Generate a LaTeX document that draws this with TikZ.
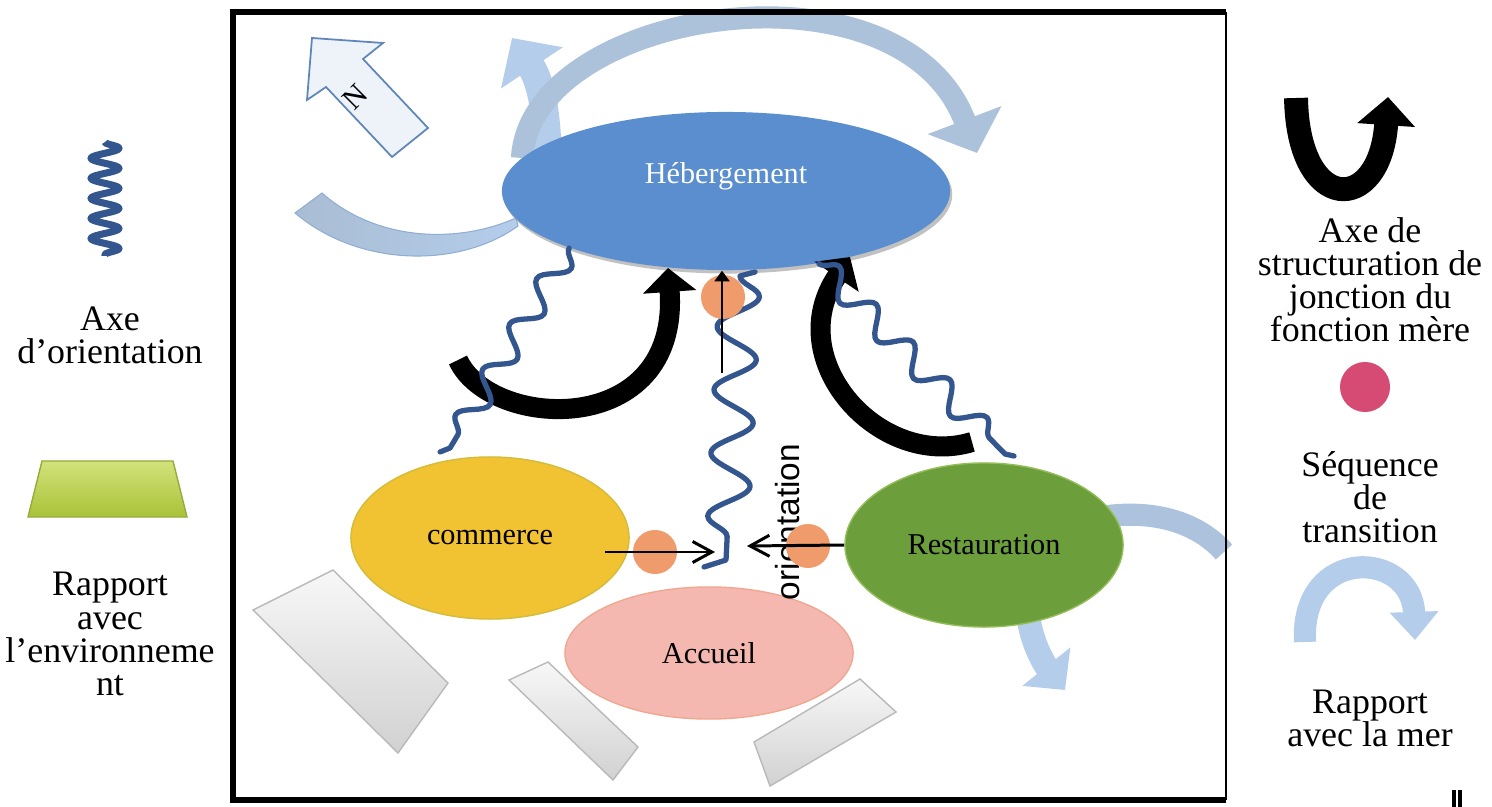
\documentclass[tikz,border=0pt]{standalone}
\usepackage{fontspec}
\setmainfont{Liberation Serif}
\newfontfamily\arialf{Liberation Sans}
\usetikzlibrary{shapes.geometric,arrows.meta,decorations.pathmorphing,shadows}
\definecolor{hebblue}{HTML}{5A8ECF}
\definecolor{comyellow}{HTML}{F1C232}
\definecolor{comedge}{HTML}{D2BC3A}
\definecolor{resgreen}{HTML}{6C9E3B}
\definecolor{resedge}{HTML}{94BE5A}
\definecolor{accpink}{HTML}{F5B8B1}
\definecolor{accedge}{HTML}{EFA88F}
\definecolor{dotorange}{HTML}{EF9B6C}
\definecolor{wavyblue}{HTML}{34568F}
\definecolor{seafill}{HTML}{B4CDEB}
\definecolor{seagray}{HTML}{A9BDD3}
\definecolor{seaedge}{HTML}{8FAED2}
\definecolor{nfill}{HTML}{EEF3FA}
\definecolor{nedge}{HTML}{5E86B8}
\definecolor{pinkdot}{HTML}{D64B73}
\definecolor{trtop}{HTML}{D2E27A}
\definecolor{trbot}{HTML}{A9C238}
\definecolor{tredge}{HTML}{93AC3C}
\begin{document}
\begin{tikzpicture}[x=0.01cm,y=-0.01cm,
  ell/.style={ellipse, inner sep=0pt, font=\fontsize{8.6}{10}\selectfont},
  seqdot/.style={circle, fill=dotorange, minimum size=0.44cm, inner sep=0pt},
  wavy/.style={draw=wavyblue, line width=1.5pt, line join=round, line cap=round},
  blackarrow/.style={draw=black, line width=5.7pt, -{Triangle[width=14.8pt,length=6.8pt]}},
  legendtext/.style={font=\fontsize{10.2}{9.4}\selectfont, align=center},
  slab/.style={top color=gray!6, bottom color=gray!36, draw=gray!55, line width=0.4pt},
  chev/.style={draw=black, line width=0.85pt, -{Straight Barb[length=5.5pt,width=6pt]}},
  thinarrow/.style={draw=black, line width=0.45pt, -{Triangle[length=3pt,width=4.3pt]}}
]
\useasboundingbox (0,0) rectangle (1492,807);

% --- sea arrows behind Hebergement ---
\draw[seafill, line width=8pt, -{Triangle[width=20.5pt,length=10.2pt]}] (548,175) .. controls (548,110) and (540,80) .. (512,38);
\shade[left color=seagray, right color=seafill, draw=seaedge, line width=0.3pt]
  (295,213) .. controls (360,268) and (460,268) .. (518,226)
  -- (516,218) .. controls (455,245) and (375,240) .. (322,193) -- cycle;
\draw[seagray!70!seafill, line width=6.3pt, -{Triangle[width=21.9pt,length=10pt]}] (522,158) .. controls (530,10) and (900,-50) .. (977,153);

% --- North arrow ---
\draw[fill=nfill, draw=nedge, line width=0.5pt] (312,38) -- (383,43) -- (363,59) -- (428,128) -- (392,157) -- (326,87) -- (307,100) -- cycle;
\node[font=\fontsize{8.5}{10}\selectfont, rotate=45] (nlab) at (355,97) {N};

% --- Hebergement ---
\node[ell, fill=hebblue, minimum width=4.48cm, minimum height=1.58cm,
  drop shadow={shadow xshift=0.6pt, shadow yshift=-1pt, fill=gray!70, opacity=0.7},
  label={[text=white, font=\fontsize{8.6}{10}\selectfont, yshift=0.15cm]center:Hébergement}] (heb) at (726,191) {};

% --- sea arrows of Restauration ---
\draw[seagray!60!seafill, line width=6.3pt] (1108,516) .. controls (1160,510) and (1200,525) .. (1224,552);
\draw[seafill, line width=6.8pt, -{Triangle[width=17pt,length=8.5pt]}] (1028,615) .. controls (1032,645) and (1045,665) .. (1065,690);

% --- environment slabs ---
\path[slab] (253,610) -- (333,570) -- (448,683) -- (398,753) -- cycle;
\path[slab] (509,680) -- (548,662) -- (638,747) -- (613,780) -- cycle;
\path[slab] (754,742) -- (860,679) -- (896,712) -- (770,786) -- cycle;

% --- function nodes ---
\node[ell, fill=comyellow, draw=comedge, line width=0.4pt, minimum width=2.78cm, minimum height=1.62cm] (com) at (490,538) {commerce};
\node[ell, fill=accpink, draw=accedge, line width=0.4pt, minimum width=2.88cm, minimum height=1.32cm] (acc) at (709,653) {Accueil};
\node[ell, fill=resgreen, draw=resedge, line width=0.4pt, minimum width=2.78cm, minimum height=1.64cm] (res) at (984,545) {Restauration};

% --- black structuring arrows ---
\draw[blackarrow] (458,360) .. controls (490,430) and (680,440) .. (668,268);
\draw[blackarrow] (972,442) .. controls (880,470) and (780,360) .. (850,257);

% --- wavy orientation axes ---
\coordinate (w1a) at (heb.200);
\coordinate (w1b) at (450,448);
\coordinate (w2a) at (740,276);
\coordinate (w2b) at (726,560);
\coordinate (w3a) at (heb.-38);
\coordinate (w3b) at (1005,454);
\draw[wavy] (w1a) decorate[decoration={snake, amplitude=3.5pt, segment length=15pt}] {-- (w1b)} -- ++(-10,4);
\draw[wavy] (755,272) -- (w2a) decorate[decoration={snake, amplitude=5.8pt, segment length=18pt}] {-- (w2b)} -- ++(-22,7);
\draw[wavy] (w3a) decorate[decoration={snake, amplitude=3.6pt, segment length=15pt}] {-- (w3b)} -- ++(9,2);

% --- orientation label ---
\node[font=\arialf\fontsize{9.5}{10}\selectfont, rotate=90] (ori) at (788,522) {orientation};

% --- transition dots ---
\node[seqdot] (dcen) at (723,297) {};
\node[seqdot] (dcom) at (655,552) {};
\node[seqdot] (dres) at (808,546) {};

% --- thin arrows ---
\coordinate (tb) at (722,373);
\draw[thinarrow] (tb) -- (tb |- heb.south);
\coordinate (ca1) at (605,552);
\coordinate (ca2) at (715,552);
\draw[chev] (ca1) -- (ca2);
\coordinate (ra2) at (747,546);
\draw[chev] (res.west) -- (ra2);

% --- frame ---
\draw[line width=1.6pt] (1226,12) -- (233,12) -- (233,800) -- (1226,800);
\draw[line width=0.7pt] (1226,12) -- (1226,800);

% --- left legend ---
\draw[draw=wavyblue, line width=2pt, line join=round, decorate, decoration={snake, amplitude=4pt, segment length=5.7pt}] (105,142) -- (105,256);
\node[legendtext] (l1) at (110,335) {Axe\\d’orientation};
\shade[top color=trtop, bottom color=trbot, draw=tredge, line width=0.4pt] (42,461) -- (173,461) -- (187,517) -- (28,517) -- cycle;
\node[legendtext] (l2) at (110,634) {Rapport\\avec\\l’environneme\\nt};

% --- right legend ---
\draw[line width=6.8pt, -{Triangle[width=16pt,length=8pt]}] (1296,98) .. controls (1298,215) and (1380,215) .. (1388,97);
\node[legendtext] (r1) at (1370,280) {Axe de\\structuration de\\jonction du\\fonction mère};
\node[circle, fill=pinkdot, minimum size=0.5cm, inner sep=0pt] (ldot) at (1365,387) {};
\node[legendtext] (r2) at (1370,497) {Séquence\\de\\transition};
\draw[seafill, line width=6.3pt, -{Triangle[width=13.4pt,length=8pt]}] (1305,642) .. controls (1300,545) and (1412,550) .. (1415,640);
\node[legendtext] (r3) at (1370,718) {Rapport\\avec la mer};

% --- corner mark ---
\fill (1452,790) rectangle (1456,807);
\fill (1458,790) rectangle (1462,807);
\end{tikzpicture}
\end{document}
